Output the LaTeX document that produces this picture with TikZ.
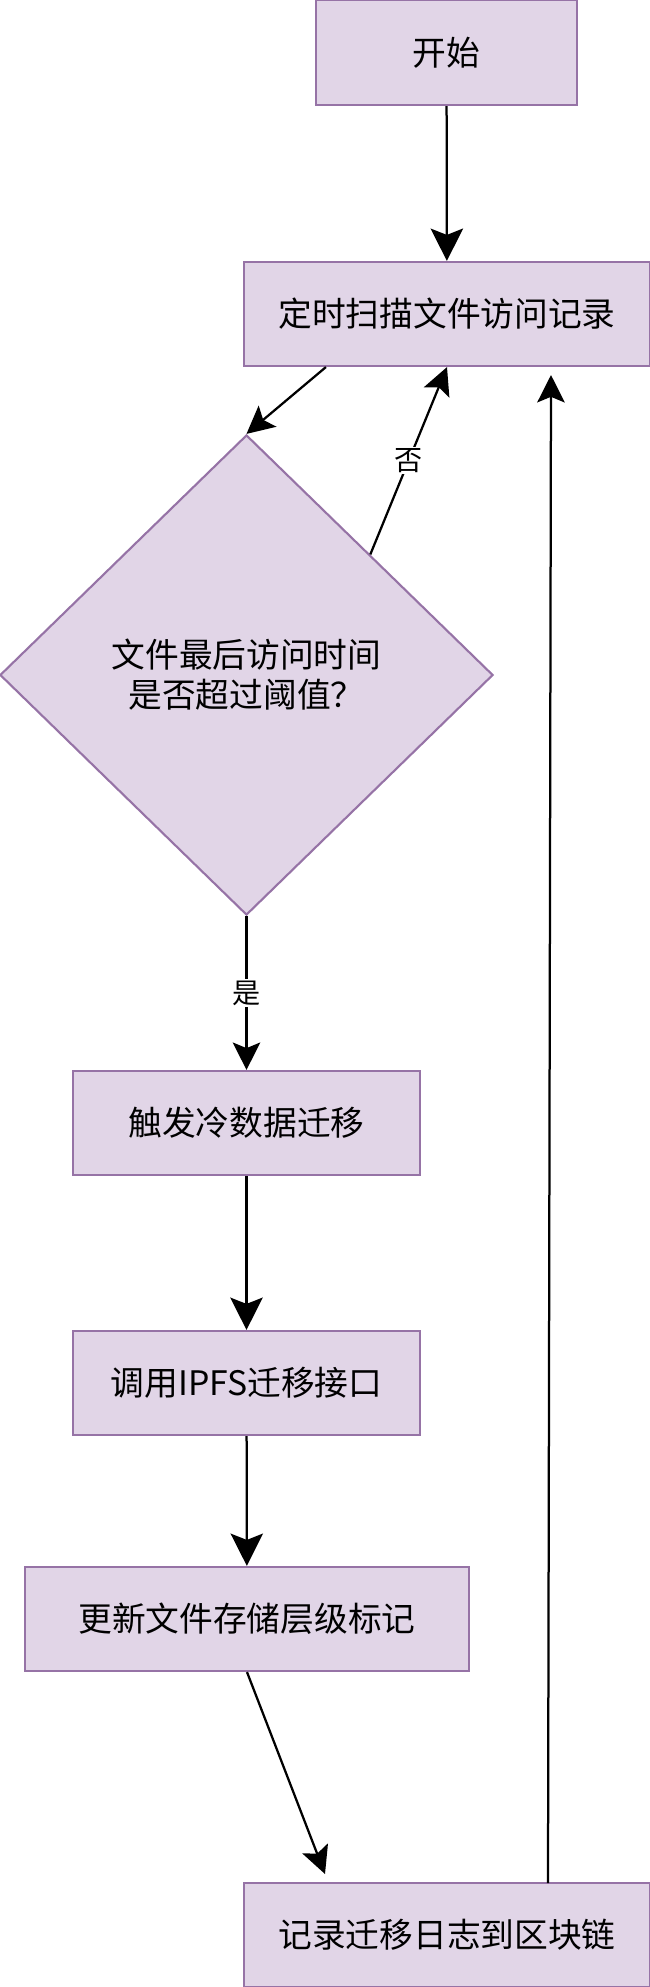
\documentclass[tikz,border=0pt]{standalone}
\usepackage{fontspec}
\setmainfont{Noto Sans CJK SC}
\usetikzlibrary{shapes.geometric, arrows.meta, calc}
\definecolor{boxfill}{HTML}{E1D5E7}
\definecolor{boxline}{HTML}{9673A6}

\begin{document}
\begin{tikzpicture}[
        x                   = 0.025cm,
        y                   = -0.025cm,
        box/.style          = {draw=boxline, fill=boxfill, line width=1.5pt, minimum height=2.6cm, inner sep=0pt, font=\fontsize{24}{28.4}\selectfont},
        judgebox/.style     = {box, diamond, aspect=1, minimum width=12.325cm, minimum height=12cm, align=center},
        bigarrow/.style     = {line width=1.6pt, -{Stealth[length=23pt, width=23pt, inset=4.5pt]}},
        smallarrow/.style   = {line width=1.6pt, -{Stealth[length=19.5pt, width=19.5pt, inset=4pt]}},
        edgelabel/.style    = {fill=white, inner sep=1pt, font=\fontsize{20}{24}\selectfont},
      ]
        \useasboundingbox (0,0) rectangle (650,1987);

        \node[box, minimum width=6.525cm, minimum height=2.625cm] (start) at (446.5,52.5) {开始};
        \node[box, minimum width=10.15cm] (scan) at (447,314) {定时扫描文件访问记录};
        \node[judgebox] (judge) at (246.5,675) {文件最后访问时间\\是否超过阈值？};
        \node[box, minimum width=8.675cm] (trigger) at (246.5,1123) {触发冷数据迁移};
        \node[box, minimum width=8.675cm] (call) at (246.5,1383) {调用IPFS迁移接口};
        \node[box, minimum width=11.1cm] (update) at (247,1619) {更新文件存储层级标记};
        \node[box, minimum width=10.15cm] (log) at (447,1935) {记录迁移日志到区块链};

        \coordinate (logend) at (325,1874);
        \coordinate (loopstart) at (548,1883);
        \coordinate (loopend) at (551,375);

        \draw[bigarrow] (start) -- (scan);
        \draw[smallarrow] ([xshift=2.075cm]scan.south west) -- (judge.north);
        \draw[smallarrow] ($(judge.north)!0.5!(judge.east)$) -- node[edgelabel] {否} (scan.south);
        \draw[smallarrow] (judge) -- node[edgelabel] {是} (trigger);
        \draw[bigarrow] (trigger) -- (call);
        \draw[bigarrow] (call) -- (update);
        \draw[smallarrow] (update.south) -- (logend);
        \draw[smallarrow] (loopstart) -- (loopend);
    \end{tikzpicture}
\end{document}
